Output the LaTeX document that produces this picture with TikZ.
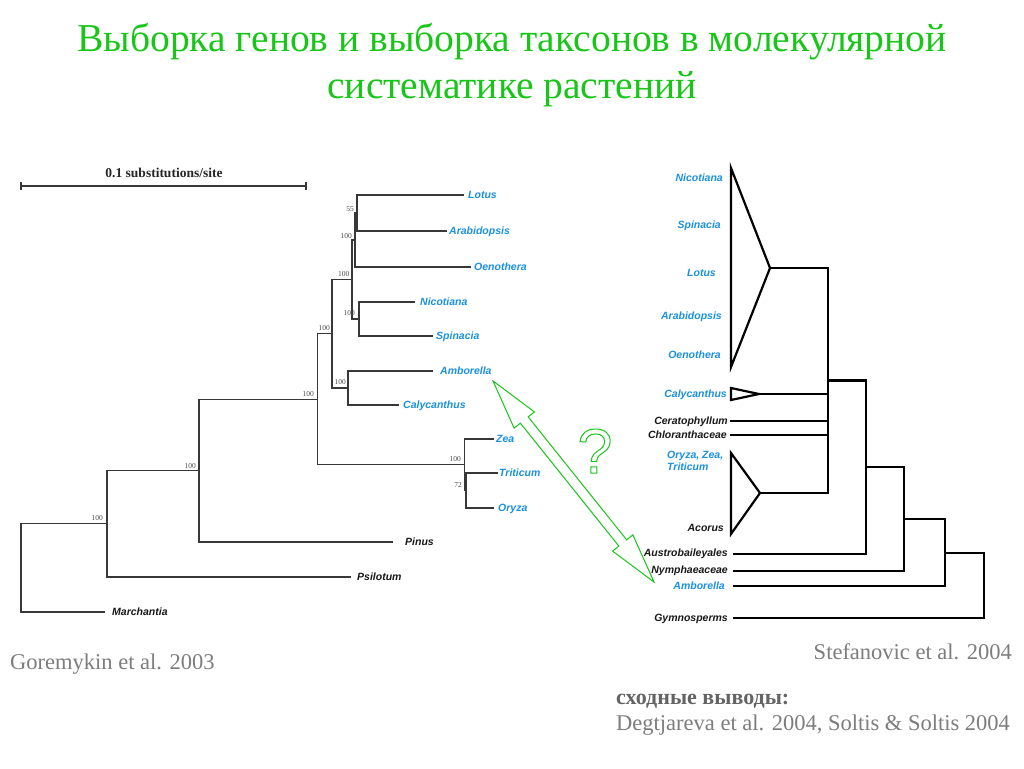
\documentclass[tikz,border=0pt]{standalone}
\usepackage{fontspec}
\setmainfont{Liberation Serif}
\newfontfamily\labfont{Liberation Sans}
\usetikzlibrary{calc}
\definecolor{tgreen}{RGB}{24,198,24}
\definecolor{lblue}{RGB}{27,145,222}
\definecolor{txtgray}{RGB}{125,125,125}
\definecolor{boldgray}{RGB}{100,100,100}
\begin{document}
\begin{tikzpicture}[x=1pt,y=-1pt,
  lt/.style={draw=black!78, line width=1.35pt, line cap=rect},
  rt/.style={draw=black, line width=2.2pt, line join=miter},
  tipl/.style={font=\labfont\bfseries\itshape\fontsize{10.5}{12}\selectfont, text=lblue, inner sep=0pt, anchor=base west, yshift=-3.8pt},
  tipr/.style={font=\labfont\bfseries\itshape\fontsize{10.5}{12}\selectfont, text=lblue, inner sep=0pt, anchor=base east, yshift=-3.8pt},
  blk/.style={text=black!90},
  sup/.style={font=\fontsize{7.5}{8}\selectfont, text=black!70, inner sep=0pt, anchor=east},
  ttl/.style={font=\fontsize{39.5}{44}\selectfont, text=tgreen, inner sep=0pt, anchor=base},
  ref/.style={font=\fontsize{22.5}{26}\selectfont, text=txtgray, inner sep=0pt},
  garrow/.style={draw=tgreen, line width=1pt, line join=miter}
]
\useasboundingbox[fill=white] (0,0) rectangle (1024,768);

% ---------- title
\node[ttl] (t1) at (512,52) {Выборка генов и выборка таксонов в молекулярной};
\node[ttl] (t2) at (512,98) {систематике растений};

% ---------- scale bar
\coordinate (sbL) at (21,186);
\coordinate (sbR) at (306,186);
\draw[lt, line width=1.1pt] (sbL) -- (sbR);
\draw[lt, line width=1.1pt] ($(sbL)+(0,-3)$) -- ($(sbL)+(0,3)$);
\draw[lt, line width=1.1pt] ($(sbR)+(0,-3)$) -- ($(sbR)+(0,3)$);
\node[font=\bfseries\fontsize{13.5}{15}\selectfont, text=black!85, inner sep=0pt] (sbt) at (164,173) {0.1 substitutions/site};

% ---------- left tree: tip ends
\coordinate (eLotus) at (463,195);
\coordinate (eArab)  at (446,231);
\coordinate (eOeno)  at (470,267);
\coordinate (eNic)   at (414,302);
\coordinate (eSpi)   at (432,336);
\coordinate (eAmb)   at (432,371);
\coordinate (eCaly)  at (398,405);
\coordinate (eZea)   at (493,439);
\coordinate (eTrit)  at (497,473);
\coordinate (eOry)   at (493,508);
\coordinate (ePin)   at (392,542);
\coordinate (ePsi)   at (350,577);
\coordinate (eMar)   at (104,612);
% internal nodes
\coordinate (H)  at (357,213);
\coordinate (F)  at (355,240);
\coordinate (G)  at (359,319);
\coordinate (E)  at (352,279.5);
\coordinate (I)  at (348,388);
\coordinate (D)  at (332,333.75);
\coordinate (TO) at (466,490.5);
\coordinate (M)  at (464.5,464.75);
\coordinate (C)  at (317.5,399.25);
\coordinate (B)  at (199,470.6);
\coordinate (A)  at (107,523.8);
\coordinate (R)  at (21,567.9);

\draw[lt] (H) |- (eLotus);  \draw[lt] (H) |- (eArab);
\draw[lt] (F) |- (H);       \draw[lt] (F) |- (eOeno);
\draw[lt] (G) |- (eNic);    \draw[lt] (G) |- (eSpi);
\draw[lt] (E) |- (F);       \draw[lt] (E) |- (G);
\draw[lt] (I) |- (eAmb);    \draw[lt] (I) |- (eCaly);
\draw[lt] (D) |- (E);       \draw[lt] (D) |- (I);
\draw[lt] (TO) |- (eTrit);  \draw[lt] (TO) |- (eOry);
\draw[lt] (M) |- (eZea);    \draw[lt] (M) |- (TO);
\draw[lt] (C) |- (D);       \draw[lt] (C) |- (M);
\draw[lt] (B) |- (C);       \draw[lt] (B) |- (ePin);
\draw[lt] (A) |- (B);       \draw[lt] (A) |- (ePsi);
\draw[lt] (R) |- (A);       \draw[lt] (R) |- (eMar);

% left tip labels
\node[tipl] (lLotus) at (468,195) {Lotus};
\node[tipl] (lArab)  at (449,231) {Arabidopsis};
\node[tipl] (lOeno)  at (474,267) {Oenothera};
\node[tipl] (lNic)   at (420,302) {Nicotiana};
\node[tipl] (lSpi)   at (436,336) {Spinacia};
\node[tipl] (lAmb)   at (440,371) {Amborella};
\node[tipl] (lCaly)  at (403,405) {Calycanthus};
\node[tipl] (lZea)   at (496,439) {Zea};
\node[tipl] (lTrit)  at (499,473) {Triticum};
\node[tipl] (lOry)   at (498,508) {Oryza};
\node[tipl, blk] (lPin) at (405,542) {Pinus};
\node[tipl, blk] (lPsi) at (357,577) {Psilotum};
\node[tipl, blk] (lMar) at (112,612) {Marchantia};

% support values
\node[sup] (s55)  at (354,209) {55};
\node[sup] (sF)   at (352,236) {100};
\node[sup] (sE)   at (349.5,274) {100};
\node[sup] (sG)   at (355,313) {100};
\node[sup] (sD)   at (330,328) {100};
\node[sup] (sI)   at (346,382) {100};
\node[sup] (sC)   at (314,394) {100};
\node[sup] (sM)   at (461,459) {100};
\node[sup] (s72)  at (462,485) {72};
\node[sup] (sB)   at (196,466) {100};
\node[sup] (sA)   at (103,518) {100};

% ---------- right tree
\coordinate (bt1) at (731,168); \coordinate (bt2) at (731,367); \coordinate (btA) at (770,268);
\coordinate (ct1) at (731,388); \coordinate (ct2) at (731,400); \coordinate (ctA) at (759,394);
\coordinate (mt1) at (731,453); \coordinate (mt2) at (731,534); \coordinate (mtA) at (760,493);
\coordinate (eCer)  at (730,421);
\coordinate (eChl)  at (730,435);
\coordinate (eAus)  at (733,554);
\coordinate (eNym)  at (733,571);
\coordinate (eAmb2) at (733,586);
\coordinate (eGym)  at (733,618);
\coordinate (N1) at (828,380.5);
\coordinate (N2) at (866,467.25);
\coordinate (N3) at (904,519.1);
\coordinate (N4) at (945,552.6);
\coordinate (N5) at (984,585.3);

\draw[rt] (bt1) -- (bt2) -- (btA) -- cycle;
\draw[rt] (ct1) -- (ct2) -- (ctA) -- cycle;
\draw[rt] (mt1) -- (mt2) -- (mtA) -- cycle;
\draw[rt] (N1) |- (btA);  \draw[rt] (N1) |- (ctA);
\draw[rt] (N1) |- (eCer); \draw[rt] (N1) |- (eChl);
\draw[rt] (N1) |- (mtA);
\draw[rt] (N2) |- (N1);   \draw[rt] (N2) |- (eAus);
\draw[rt] (N3) |- (N2);   \draw[rt] (N3) |- (eNym);
\draw[rt] (N4) |- (N3);   \draw[rt] (N4) |- (eAmb2);
\draw[rt] (N5) |- (N4);   \draw[rt] (N5) |- (eGym);

\node[tipr] (rNic)  at (723,178) {Nicotiana};
\node[tipr] (rSpi)  at (721,225) {Spinacia};
\node[tipr] (rLot)  at (716,273) {Lotus};
\node[tipr] (rAra)  at (722,316) {Arabidopsis};
\node[tipr] (rOen)  at (721,355) {Oenothera};
\node[tipr] (rCal)  at (727,394) {Calycanthus};
\node[tipr, blk] (rCer) at (728,421) {Ceratophyllum};
\node[tipr, blk] (rChl) at (727,435) {Chloranthaceae};
\node[tipl] (rOZ)   at (667,455) {Oryza, Zea,};
\node[tipl] (rTri)  at (667,467) {Triticum};
\node[tipr, blk] (rAco) at (724,528) {Acorus};
\node[tipr, blk] (rAus) at (728,553) {Austrobaileyales};
\node[tipr, blk] (rNym) at (728,570) {Nymphaeaceae};
\node[tipr] (rAmb)  at (725,586) {Amborella};
\node[tipr, blk] (rGym) at (728,618) {Gymnosperms};

% ---------- green double arrow
\coordinate (T1) at (493,381);
\coordinate (T2) at (654,582);
\coordinate (H1) at ($(T1)!50pt!(T2)$);
\coordinate (H2) at ($(T2)!50pt!(T1)$);
\coordinate (a1) at ($(H1)!13pt!90:(T2)$);
\coordinate (a2) at ($(H1)!5pt!90:(T2)$);
\coordinate (a3) at ($(H1)!13pt!-90:(T2)$);
\coordinate (a4) at ($(H1)!5pt!-90:(T2)$);
\coordinate (b1) at ($(H2)!13pt!-90:(T1)$);
\coordinate (b2) at ($(H2)!5pt!-90:(T1)$);
\coordinate (b3) at ($(H2)!13pt!90:(T1)$);
\coordinate (b4) at ($(H2)!5pt!90:(T1)$);
\draw[garrow] (T1) -- (a1) -- (a2) -- (b2) -- (b1) -- (T2) -- (b3) -- (b4) -- (a4) -- (a3) -- cycle;

% question mark (outlined)
\node[font=\labfont\fontsize{63}{63}\selectfont, text=tgreen, inner sep=0pt, anchor=base] (q) at (595,473)
  {\special{pdf:literal direct 1 Tr 1 w}?\special{pdf:literal direct 0 Tr}};

% ---------- references
\node[ref, anchor=base west] (gor) at (10,669) {Goremykin et al. 2003};
\node[ref, anchor=base east] (stef) at (1012,659) {Stefanovic et al. 2004};
\node[ref, anchor=base west, font=\bfseries\fontsize{22}{24}\selectfont, text=boldgray] (sx) at (616,704) {сходные выводы:};
\node[ref, anchor=base west] (deg) at (616,730) {Degtjareva et al. 2004, Soltis \& Soltis 2004};
\end{tikzpicture}
\end{document}
